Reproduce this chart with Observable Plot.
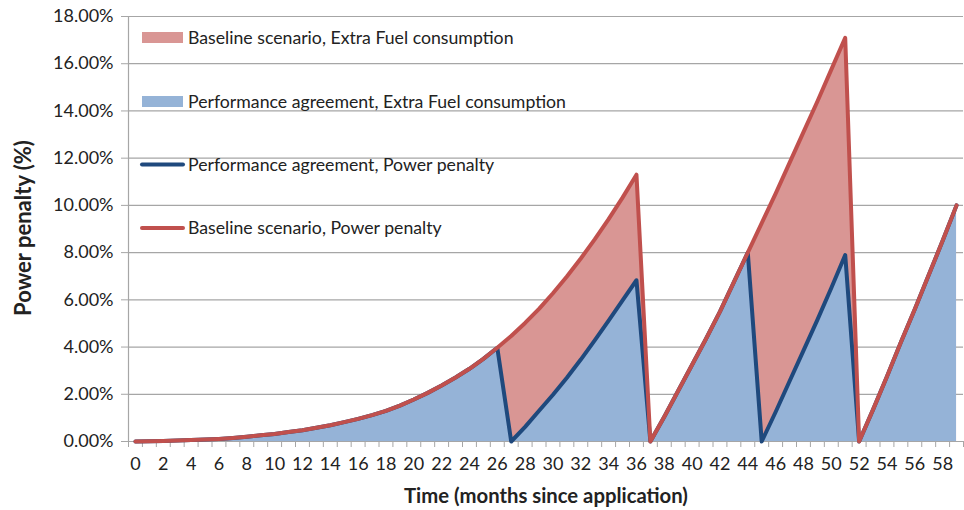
<!DOCTYPE html>
<html><head><meta charset="utf-8">
<script src="https://cdn.jsdelivr.net/npm/d3@7"></script>
<script src="https://cdn.jsdelivr.net/npm/@observablehq/plot@0.6"></script>
<style>
html,body{margin:0;padding:0;background:#fff;}
#chart{position:relative;width:964px;height:510px;}
</style></head><body><div id="chart"></div>
<script>
const months = [0,1,2,3,4,5,6,7,8,9,10,11,12,13,14,15,16,17,18,19,20,21,22,23,24,25,26,27,28,29,30,31,32,33,34,35,36,37,38,39,40,41,42,43,44,45,46,47,48,49,50,51,52,53,54,55,56,57,58,59];
const baseline = [0.00,0.01,0.02,0.04,0.06,0.08,0.11,0.15,0.20,0.26,0.32,0.40,0.48,0.58,0.69,0.82,0.96,1.12,1.30,1.52,1.78,2.06,2.37,2.71,3.08,3.50,3.97,
  4.47,5.02,5.62,6.28,6.99,7.75,8.56,9.42,10.33,11.30,
  0.00,1.05,2.15,3.25,4.35,5.50,6.75,8.00,9.25,10.50,11.80,13.10,14.40,15.75,17.10,
  0.00,1.35,2.75,4.20,5.60,7.05,8.50,10.00];
const performance = [0.00,0.01,0.02,0.04,0.06,0.08,0.11,0.15,0.20,0.26,0.32,0.40,0.48,0.58,0.69,0.82,0.96,1.12,1.30,1.52,1.78,2.06,2.37,2.71,3.08,3.50,3.97,
  0.00,0.62,1.30,1.98,2.70,3.47,4.28,5.12,5.98,6.83,
  0.00,1.05,2.15,3.25,4.35,5.50,6.75,8.00,0.00,1.25,2.55,3.85,5.15,6.50,7.90,
  0.00,1.35,2.75,4.20,5.60,7.05,8.50,10.00];
const yTicks = [0,2,4,6,8,10,12,14,16,18];
const xLabelTicks = [0,2,4,6,8,10,12,14,16,18,20,22,24,26,28,30,32,34,36,38,40,42,44,46,48,50,52,54,56,58];
const legendLabels = ["Baseline scenario, Extra Fuel consumption","Performance agreement, Extra Fuel consumption","Performance agreement, Power penalty","Baseline scenario, Power penalty"];
const yTitle = "Power penalty (%)";
const xTitle = "Time (months since application)";

const colors = {baseArea:"#D99694", perfArea:"#95B3D7", perfLine:"#1F497D", baseLine:"#C0504D", grid:"#a6a6a6", text:"#222"};
const data = months.map((m,i)=>({month:m, baseline:baseline[i], performance:performance[i]}));
const boundaries = months.map(m=>m-0.5).concat([months[months.length-1]+0.5]);
const font = "Lato, 'Open Sans', sans-serif";

const plot = Plot.plot({
  width:964, height:510,
  marginLeft:128, marginRight:1, marginTop:16, marginBottom:69,
  style:{fontFamily:font, background:"#fff", color:colors.text, overflow:"visible"},
  x:{domain:[-0.5,59.5], axis:null},
  y:{domain:[0,18], axis:null},
  marks:[
    Plot.ruleY(yTicks, {stroke:colors.grid, strokeWidth:1.2}),
    Plot.areaY(data,{x:"month", y:"baseline", fill:colors.baseArea}),
    Plot.areaY(data,{x:"month", y:"performance", fill:colors.perfArea}),
    Plot.ruleX([-0.5], {stroke:colors.grid, strokeWidth:1.2}),
    Plot.ruleY([0], {stroke:colors.grid, strokeWidth:1.2}),
    Plot.axisY({ticks:yTicks, tickSize:7, tickPadding:8, tickFormat:d=>d.toFixed(2)+"%", fontSize:18, stroke:colors.grid, label:null}),
    Plot.axisX({ticks:boundaries, tickSize:6, tickFormat:()=>"", stroke:colors.grid, label:null}),
    Plot.axisX({ticks:xLabelTicks, tickSize:0, tickPadding:16, fontSize:18, label:null}),
    Plot.line(data,{x:"month", y:"performance", stroke:colors.perfLine, strokeWidth:4, strokeLinejoin:"round", strokeLinecap:"round"}),
    Plot.line(data,{x:"month", y:"baseline", stroke:colors.baseLine, strokeWidth:4, strokeLinejoin:"round", strokeLinecap:"round"})
  ]
});
document.getElementById("chart").appendChild(plot);

const svg = d3.select(plot);
// axis titles
svg.append("text").attr("transform","translate(31,228) rotate(-90)").attr("text-anchor","middle")
  .attr("font-family",font).attr("font-size",22).attr("font-weight","bold").attr("fill",colors.text).text(yTitle);
svg.append("text").attr("x",546).attr("y",503).attr("text-anchor","middle")
  .attr("font-family",font).attr("font-size",20.3).attr("font-weight","bold").attr("fill",colors.text).text(xTitle);

// legend
const lg = svg.append("g").attr("font-family",font).attr("font-size",17.7).attr("fill",colors.text).attr("text-anchor","start");
const legendItems = [
  {label:legendLabels[0], type:"rect", color:colors.baseArea, y:37.5},
  {label:legendLabels[1], type:"rect", color:colors.perfArea, y:101.5},
  {label:legendLabels[2], type:"line", color:colors.perfLine, y:164.5},
  {label:legendLabels[3], type:"line", color:colors.baseLine, y:228}
];
legendItems.forEach(it=>{
  if(it.type==="rect"){
    lg.append("rect").attr("x",142).attr("y",it.y-5.5).attr("width",41).attr("height",11).attr("fill",it.color);
  } else {
    lg.append("line").attr("x1",142).attr("x2",183).attr("y1",it.y).attr("y2",it.y)
      .attr("stroke",it.color).attr("stroke-width",4).attr("stroke-linecap","round");
  }
  lg.append("text").attr("x",188).attr("y",it.y).attr("dy","0.35em").attr("text-anchor","start").text(it.label);
});
</script></body></html>
